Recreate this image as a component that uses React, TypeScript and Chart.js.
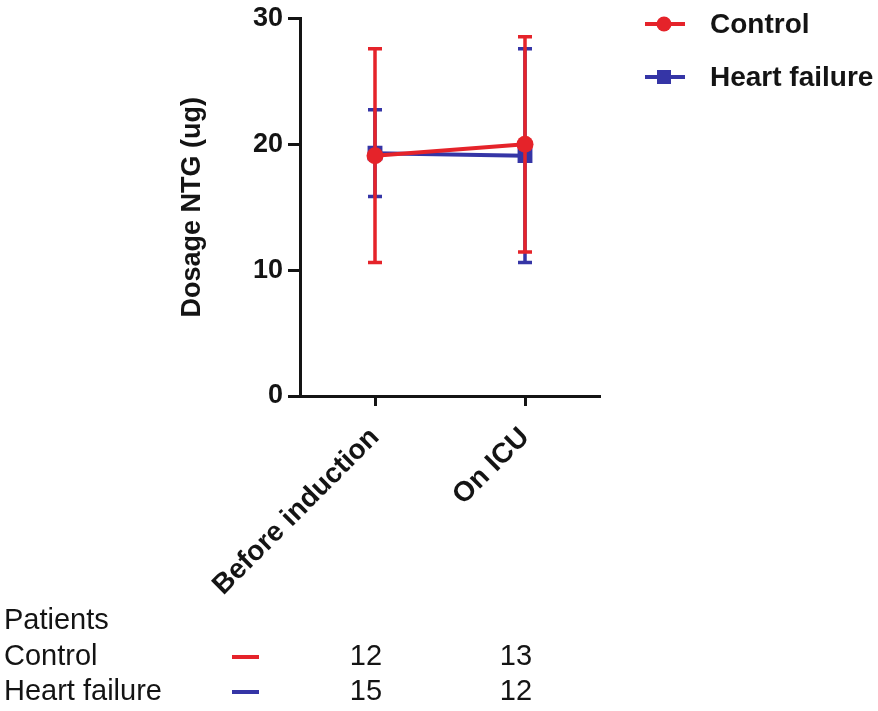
import React, { useEffect, useRef } from 'react';
import { Chart, registerables } from 'chart.js';

Chart.register(...registerables);

// ---------- data ----------
const categories = ['Before induction', 'On ICU'];
const seriesNames = ['Control', 'Heart failure'];
const controlMean = [19.1, 20.0];
const controlSD = [8.5, 8.55];
const heartFailureMean = [19.3, 19.1];
const heartFailureSD = [3.45, 8.5];
const yTickValues = [0, 10, 20, 30];
const yTitle = 'Dosage NTG (ug)';
const tableTitle = 'Patients';
const controlN = [12, 13];
const heartFailureN = [15, 12];

// ---------- style ----------
const RED = '#E5232A';
const BLUE = '#3535A6';
const INK = '#141414';
const FONT = "'Liberation Sans', Arial, Helvetica, sans-serif";
const W = 878;
const H = 711;

const errorBarPlugin = {
  id: 'errorBars',
  beforeDatasetDraw(chart: any, args: any) {
    const ds = chart.data.datasets[args.index];
    const err: number[] | undefined = ds.errors;
    if (!err) return;
    const yScale = chart.scales.y;
    const ctx = chart.ctx;
    const cap = 7;
    ctx.save();
    ctx.strokeStyle = ds.borderColor;
    ctx.lineWidth = 3.5;
    args.meta.data.forEach((pt: any, i: number) => {
      const v = ds.data[i];
      const top = yScale.getPixelForValue(v + err[i]);
      const bot = yScale.getPixelForValue(v - err[i]);
      const x = pt.x;
      ctx.beginPath();
      ctx.moveTo(x, top);
      ctx.lineTo(x, bot);
      ctx.moveTo(x - cap, top);
      ctx.lineTo(x + cap, top);
      ctx.moveTo(x - cap, bot);
      ctx.lineTo(x + cap, bot);
      ctx.stroke();
    });
    ctx.restore();
  },
};

const sideLegendPlugin = {
  id: 'sideLegend',
  afterDraw(chart: any) {
    const ctx = chart.ctx;
    const x0 = chart.chartArea.right + 45;
    chart.data.datasets.forEach((ds: any, i: number) => {
      const y = 24 + i * 53;
      ctx.save();
      ctx.strokeStyle = ds.borderColor;
      ctx.lineWidth = 4;
      ctx.beginPath();
      ctx.moveTo(x0, y);
      ctx.lineTo(x0 + 40, y);
      ctx.stroke();
      ctx.fillStyle = ds.borderColor;
      if (ds.pointStyle === 'circle') {
        ctx.beginPath();
        ctx.arc(x0 + 19, y, 7.5, 0, Math.PI * 2);
        ctx.fill();
      } else {
        ctx.fillRect(x0 + 19 - 7, y - 7, 14, 14);
      }
      ctx.fillStyle = INK;
      ctx.font = `bold 28px ${FONT}`;
      ctx.textBaseline = 'middle';
      ctx.textAlign = 'left';
      ctx.fillText(ds.label, x0 + 65, y + 1);
      ctx.restore();
    });
  },
};

const tablePlugin = {
  id: 'nTable',
  afterDraw(chart: any) {
    const ctx = chart.ctx;
    const xs = chart.scales.x;
    const rows = [
      { name: seriesNames[0], color: RED, n: controlN },
      { name: seriesNames[1], color: BLUE, n: heartFailureN },
    ];
    ctx.save();
    ctx.font = `29px ${FONT}`;
    ctx.fillStyle = INK;
    ctx.textBaseline = 'middle';
    ctx.textAlign = 'left';
    ctx.fillText(tableTitle, 4, 621);
    rows.forEach((r, k) => {
      const y = 657 + k * 35;
      ctx.textAlign = 'left';
      ctx.fillStyle = INK;
      ctx.fillText(r.name, 4, y);
      ctx.strokeStyle = r.color;
      ctx.lineWidth = 4;
      ctx.beginPath();
      ctx.moveTo(232, y);
      ctx.lineTo(259, y);
      ctx.stroke();
      ctx.textAlign = 'center';
      r.n.forEach((v, i) => {
        ctx.fillText(String(v), xs.getPixelForValue(i) - 9, y);
      });
    });
    ctx.restore();
  },
};

export default function App() {
  const ref = useRef<HTMLCanvasElement | null>(null);

  useEffect(() => {
    if (!ref.current) return;
    const chart = new Chart(ref.current, {
      type: 'line',
      data: {
        labels: categories,
        datasets: [
          {
            label: seriesNames[0],
            data: controlMean,
            errors: controlSD,
            borderColor: RED,
            backgroundColor: RED,
            borderWidth: 4,
            pointStyle: 'circle',
            pointRadius: 8.5,
            pointBorderWidth: 0,
            pointBackgroundColor: RED,
            tension: 0,
          } as any,
          {
            label: seriesNames[1],
            data: heartFailureMean,
            errors: heartFailureSD,
            borderColor: BLUE,
            backgroundColor: BLUE,
            borderWidth: 4,
            pointStyle: 'rect',
            pointRadius: 10.5,
            pointBorderWidth: 0,
            pointBackgroundColor: BLUE,
            tension: 0,
          } as any,
        ],
      },
      options: {
        animation: false,
        responsive: true,
        maintainAspectRatio: false,
        layout: { padding: { left: 173, top: 14, right: W - 600, bottom: 0 } },
        plugins: {
          legend: { display: false },
          tooltip: { enabled: false },
        },
        scales: {
          x: {
            type: 'category',
            offset: true,
            grid: {
              display: true,
              drawOnChartArea: false,
              drawTicks: true,
              tickLength: 10,
              tickWidth: 3,
              tickColor: INK,
              offset: false,
            },
            border: { display: true, color: INK, width: 3 },
            ticks: {
              color: INK,
              autoSkip: false,
              maxRotation: 45,
              minRotation: 45,
              padding: 15,
              font: { family: FONT, size: 28, weight: 'bold' },
            },
            afterFit: (s: any) => {
              s.height = H - 396;
            },
          },
          y: {
            type: 'linear',
            min: 0,
            max: 30,
            afterBuildTicks: (s: any) => {
              s.ticks = yTickValues.map((v) => ({ value: v }));
            },
            grid: {
              display: true,
              drawOnChartArea: false,
              drawTicks: true,
              tickLength: 12,
              tickWidth: 3,
              tickColor: INK,
            },
            border: { display: true, color: INK, width: 3 },
            ticks: {
              color: INK,
              padding: 5,
              font: { family: FONT, size: 27, weight: 'bold', lineHeight: 1 },
            },
            title: {
              display: true,
              text: yTitle,
              color: INK,
              padding: { top: 3, bottom: 4 },
              font: { family: FONT, size: 27, weight: 'bold' },
            },
            afterFit: (s: any) => {
              s.width = 300 - 173;
            },
          },
        },
      } as any,
      plugins: [errorBarPlugin, sideLegendPlugin, tablePlugin],
    });
    return () => chart.destroy();
  }, []);

  return (
    <div style={{ position: 'absolute', left: 0, top: 0, width: W, height: H, background: '#fff' }}>
      <canvas ref={ref} />
    </div>
  );
}
